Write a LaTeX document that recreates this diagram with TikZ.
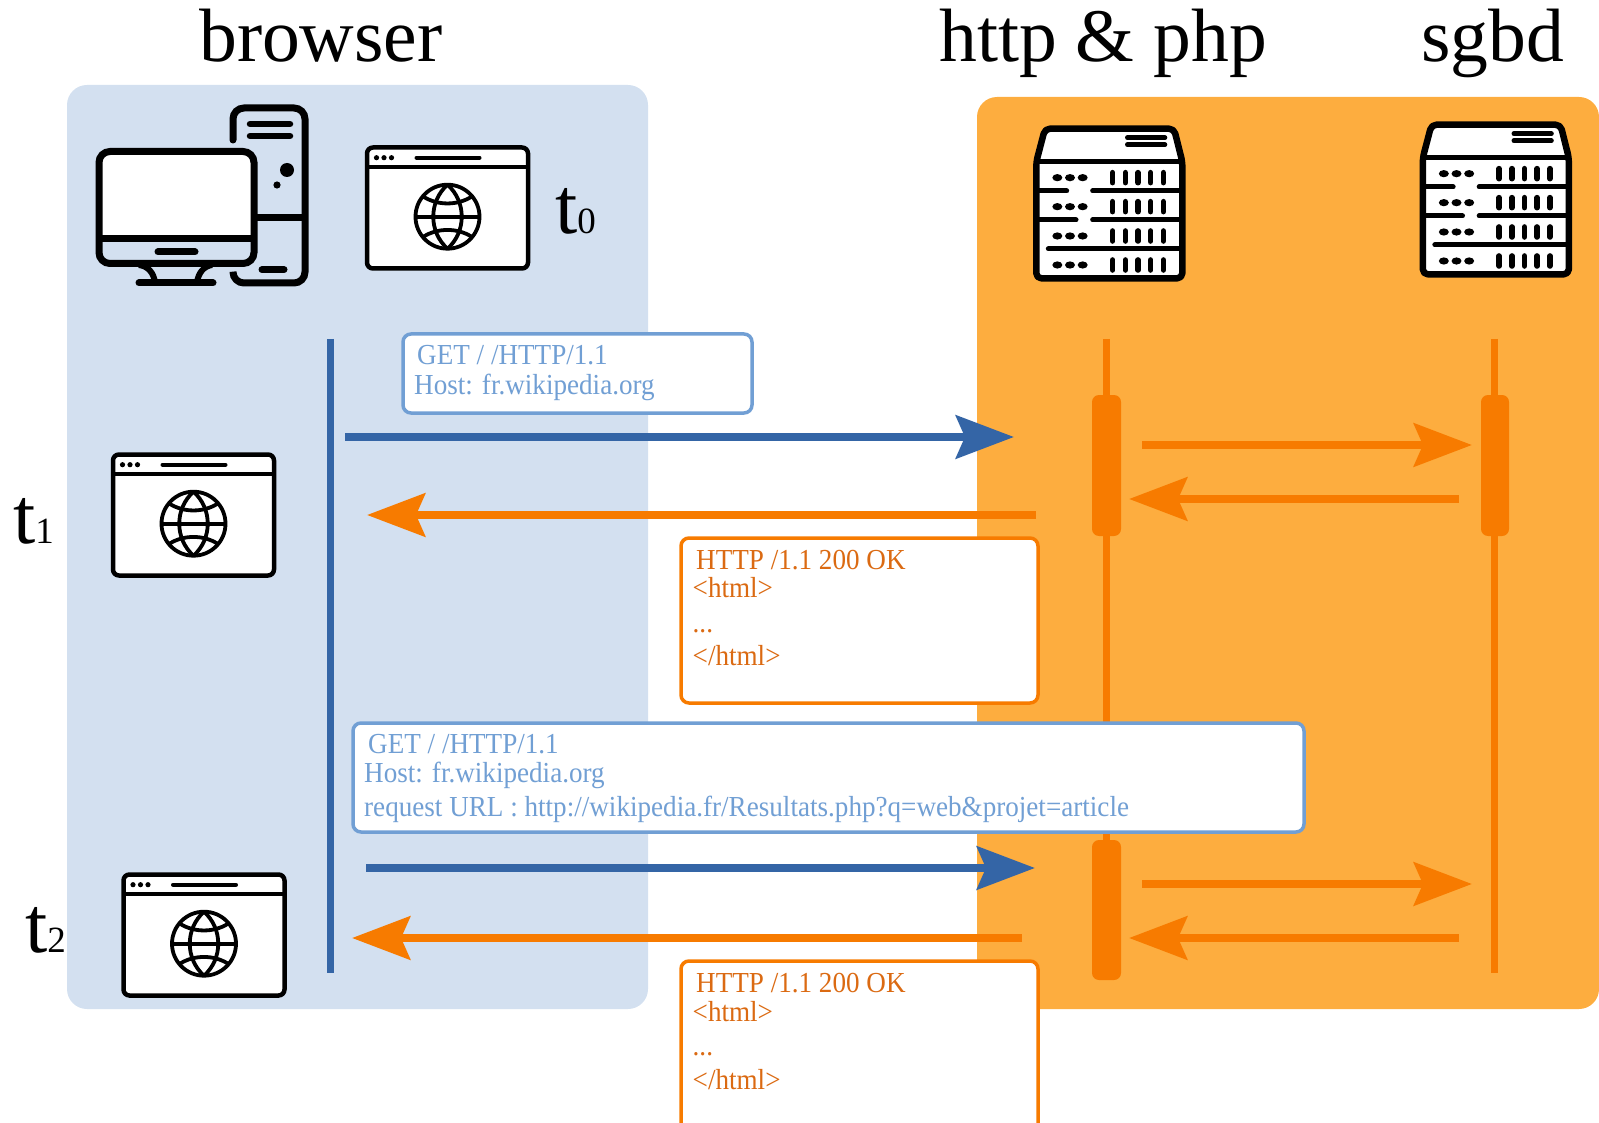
\documentclass[tikz,border=0pt]{standalone}
\usepackage{fontspec}
\setmainfont{Liberation Serif}
\newfontfamily\msgfont[FakeStretch=0.935]{Liberation Serif}
\usetikzlibrary{arrows.meta}
\definecolor{panelblue}{HTML}{D3E0F0}
\definecolor{panelorange}{HTML}{FDAD3F}
\definecolor{darkorange}{HTML}{F77B00}
\definecolor{darkblue}{HTML}{3465A6}
\definecolor{lightblue}{HTML}{719FD4}
\definecolor{textorange}{HTML}{DB6A12}
\tikzset{
  panel/.style={rounded corners=20pt},
  title/.style={anchor=base west,inner sep=0pt,font=\fontsize{75.6}{75}\selectfont},
  tlabel/.style={anchor=base west,inner sep=0pt,font=\fontsize{80}{80}\selectfont},
  msgblue/.style={anchor=base west,inner sep=0pt,text=lightblue,font=\msgfont\fontsize{29}{29}\selectfont},
  msgorange/.style={anchor=base west,inner sep=0pt,text=textorange,font=\msgfont\fontsize{29}{29}\selectfont},
  bluebox/.style={draw=lightblue,fill=white,line width=3.5pt,rounded corners=8pt},
  orangebox/.style={draw=darkorange,fill=white,line width=3.5pt,rounded corners=8pt},
  head/.style={-{Stealth[length=58pt,width=43pt,inset=9pt]}},
  barrow/.style={head,draw=darkblue,line width=8.5pt},
  oarrow/.style={head,draw=darkorange,line width=8.5pt},
  lifeline/.style={line width=7pt},
  activation/.style={fill=darkorange,rounded corners=7pt},
  webwin/.pic={
    \draw[line width=4.5pt,fill=white,rounded corners=6pt] (1.5,1.5) rectangle (162.5,122.5);
    \draw[line width=4.5pt] (1.5,21) -- (162.5,21);
    \foreach \dx in {11,18.5,26}{\fill (\dx,11.7) circle[radius=2.6pt];}
    \draw[line width=4pt,line cap=round] (51,11.7) -- (114,11.7);
    \begin{scope}[shift={(82,70.7)},line width=3.8pt]
      \draw (0,0) circle[radius=32pt];
      \draw (-32,0) -- (32,0);
      \draw (0,-32) .. controls (-19,-15) and (-19,15) .. (0,32);
      \draw (0,-32) .. controls (19,-15) and (19,15) .. (0,32);
      \draw (-24,-20) .. controls (-10,-11) and (10,-11) .. (24,-20);
      \draw (-24,20) .. controls (-10,11) and (10,11) .. (24,20);
    \end{scope}
  },
  serverpic/.pic={
    \begin{scope}[x=0.3333pt,y=-0.3333pt]
      \draw[line width=6.5pt,fill=white,line join=round,rounded corners=5pt]
        (49,155) -- (75,56) -- (462,56) -- (487,155) -- (487,505) -- (49,505) -- cycle;
      \draw[line width=5pt] (49,155) -- (487,155);
      \draw[line width=4.6pt,line cap=round] (322,83) -- (435,83) (322,104) -- (435,104);
      \foreach \ry in {203,290,378,465}{
        \foreach \rx in {112,150,188}{\fill (\rx,\ry) ellipse[x radius=5pt,y radius=3.6pt];}
        \foreach \rx in {278,316,354,392,430}{\draw[line width=5.6pt,line cap=round] (\rx,\ry-15) -- (\rx,\ry+15);}
      }
      \draw[line width=5pt,line cap=round] (50,243) -- (140,243) (218,243) -- (485,243)
        (50,330) -- (168,330) (218,330) -- (485,330) (85,417) -- (485,417);
    \end{scope}
  }
}
\begin{document}
\begin{tikzpicture}[x=1pt,y=-1pt]
\useasboundingbox (0,0) rectangle (1599,1123);
\clip (0,0) rectangle (1599,1123);
% panels
\fill[panelblue,panel] (67,85) rectangle (648,1009);
\fill[panelorange,panel] (977,97) rectangle (1599,1009);
% titles
\node[title] (tbrowser) at (199,62) {browser};
\node[title] (thttp) at (939,62) {http \& php};
\node[title] (tsgbd) at (1421,62) {sgbd};
% computer
\draw[line width=7pt,rounded corners=11pt,line cap=round] (233,140) -- (233,108) -- (305,108) -- (305,283) -- (233,283) -- (233,273);
\draw[line width=6.5pt,line cap=round] (250,124) -- (290,124) (250,136) -- (290,136);
\fill (287,170) circle[radius=7pt];
\fill (277,185) circle[radius=3.6pt];
\draw[line width=7pt] (254,217.7) -- (304,217.7);
\draw[line width=7pt,line cap=round] (262,269.7) -- (284,269.7);
\fill[white,rounded corners=9pt] (99,151.5) -- (254,151.5) -- (254,239) -- (99,239) -- cycle;
\draw[line width=7pt,rounded corners=11pt] (99,151.5) rectangle (254,263.5);
\draw[line width=7pt] (99,239) -- (254,239);
\draw[line width=7pt,line cap=round] (158,252) -- (195,252);
\draw[line width=7pt,line cap=round] (139,283) -- (213,283);
\draw[line width=6pt] (139,265) .. controls (148,266) and (154,273) .. (155,283);
\draw[line width=6pt] (212,265) .. controls (204,266) and (198,273) .. (197,283);
% windows
\pic at (365.5,146) {webwin};
\pic at (111.5,453) {webwin};
\pic at (122,873) {webwin};
% servers
\pic at (1020,110) {serverpic};
\pic at (1406.5,106) {serverpic};
% t labels
\node[tlabel] (t0) at (555,234) {t\fontsize{37}{37}\selectfont 0};
\node[tlabel] (t1) at (13,543) {t\fontsize{37}{37}\selectfont 1};
\node[tlabel] (t2) at (25,952) {t\fontsize{37}{37}\selectfont 2};
% lifelines
\coordinate (bt) at (330.5,339); \coordinate (bb) at (330.5,973);
\coordinate (ht) at (1106.5,339); \coordinate (hb) at (1106.5,973);
\coordinate (st) at (1494,339); \coordinate (sb) at (1494,973);
\draw[lifeline,darkblue] (bt) -- (bb);
\draw[lifeline,darkorange] (ht) -- (hb);
\draw[lifeline,darkorange] (st) -- (sb);
\fill[activation] (1092,395) rectangle (1121,536);
\fill[activation] (1481,395) rectangle (1509,536);
\fill[activation] (1092,840) rectangle (1121,980);
% arrows
\coordinate (a1s) at (345,437); \coordinate (a1e) at (1014,437);
\coordinate (a2s) at (1036,515); \coordinate (a2e) at (367,515);
\coordinate (a3s) at (1142,445); \coordinate (a3e) at (1472,445);
\coordinate (a4s) at (1459,499); \coordinate (a4e) at (1129,499);
\coordinate (a5s) at (366,868); \coordinate (a5e) at (1035,868);
\coordinate (a6s) at (1022,938); \coordinate (a6e) at (352,938);
\coordinate (a7s) at (1142,884); \coordinate (a7e) at (1472,884);
\coordinate (a8s) at (1459,938); \coordinate (a8e) at (1129,938);
\draw[barrow] (a1s) -- (a1e);
\draw[oarrow] (a2s) -- (a2e);
\draw[oarrow] (a3s) -- (a3e);
\draw[oarrow] (a4s) -- (a4e);
\draw[barrow] (a5s) -- (a5e);
\draw[oarrow] (a6s) -- (a6e);
\draw[oarrow] (a7s) -- (a7e);
\draw[oarrow] (a8s) -- (a8e);
% box 1
\draw[bluebox] (403,334) rectangle (752,413);
\node[msgblue] (b1a) at (417,365) {GET / /HTTP/1.1};
\node[msgblue] (b1b) at (414,394) {Host: fr.wikipedia.org};
% box 2
\draw[orangebox] (681,538) rectangle (1038,703);
\node[msgorange] (b2a) at (696,569) {HTTP /1.1 200 OK};
\node[msgorange] (b2b) at (692.5,597) {<html>};
\node[msgorange] (b2c) at (692.5,632) {...};
\node[msgorange] (b2d) at (692.5,665) {</html>};
% box 3
\draw[bluebox] (353,723) rectangle (1304,832);
\node[msgblue] (b3a) at (368,753) {GET / /HTTP/1.1};
\node[msgblue] (b3b) at (364,782) {Host: fr.wikipedia.org};
\node[msgblue] (b3c) at (364,816) {request URL : http://wikipedia.fr/Resultats.php?q=web\&projet=article};
% box 4
\draw[orangebox] (681,961) rectangle (1038,1140);
\node[msgorange] (b4a) at (696,992) {HTTP /1.1 200 OK};
\node[msgorange] (b4b) at (692.5,1021) {<html>};
\node[msgorange] (b4c) at (692.5,1055) {...};
\node[msgorange] (b4d) at (692.5,1089) {</html>};
\end{tikzpicture}
\end{document}
